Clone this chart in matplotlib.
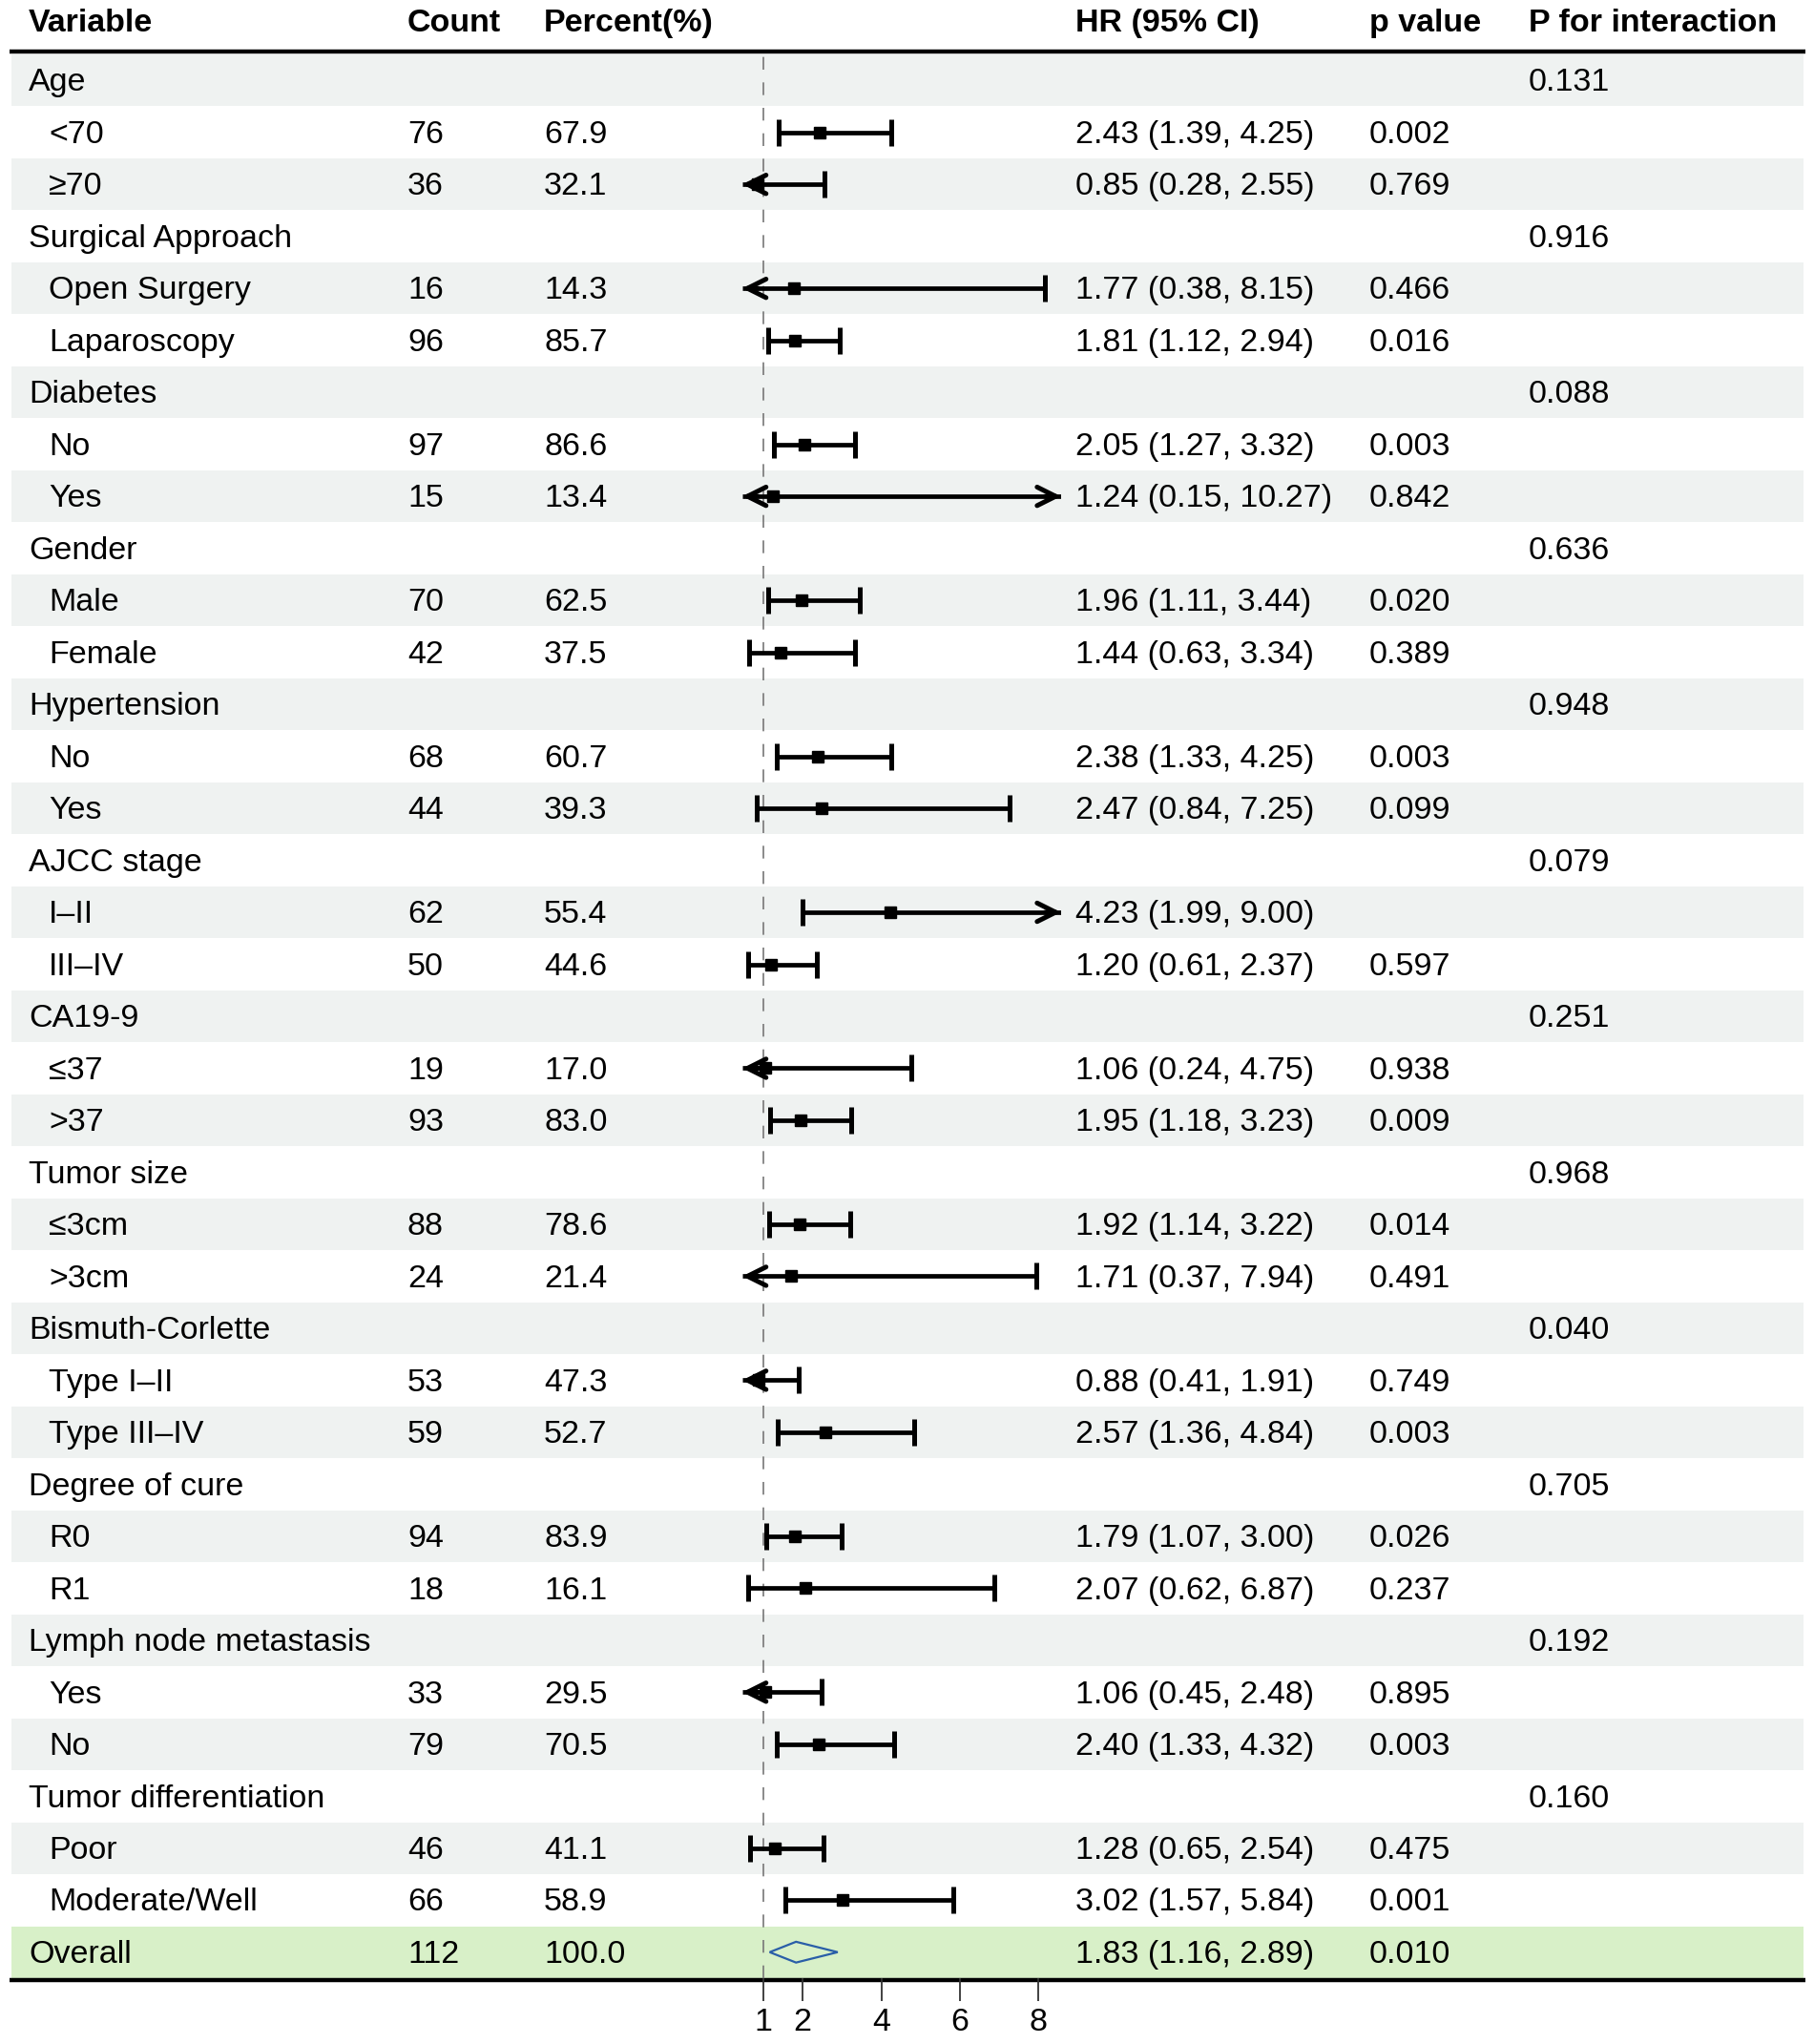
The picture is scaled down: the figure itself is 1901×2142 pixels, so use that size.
import matplotlib.pyplot as plt
from matplotlib.patches import Polygon

plt.rcParams["font.family"] = ["Liberation Sans", "DejaVu Sans"]

labels = [
    "Age", "<70", "≥70",
    "Surgical Approach", "Open Surgery", "Laparoscopy",
    "Diabetes", "No", "Yes",
    "Gender", "Male", "Female",
    "Hypertension", "No", "Yes",
    "AJCC stage", "I–II", "III–IV",
    "CA19-9", "≤37", ">37",
    "Tumor size", "≤3cm", ">3cm",
    "Bismuth-Corlette", "Type I–II", "Type III–IV",
    "Degree of cure", "R0", "R1",
    "Lymph node metastasis", "Yes", "No",
    "Tumor differentiation", "Poor", "Moderate/Well",
    "Overall",
]
is_group = [i % 3 == 0 for i in range(36)] + [True]
counts = ["", "76", "36", "", "16", "96", "", "97", "15", "", "70", "42",
          "", "68", "44", "", "62", "50", "", "19", "93", "", "88", "24",
          "", "53", "59", "", "94", "18", "", "33", "79", "", "46", "66", "112"]
percents = ["", "67.9", "32.1", "", "14.3", "85.7", "", "86.6", "13.4", "", "62.5", "37.5",
            "", "60.7", "39.3", "", "55.4", "44.6", "", "17.0", "83.0", "", "78.6", "21.4",
            "", "47.3", "52.7", "", "83.9", "16.1", "", "29.5", "70.5", "", "41.1", "58.9", "100.0"]
hr = [None, 2.43, 0.85, None, 1.77, 1.81, None, 2.05, 1.24, None, 1.96, 1.44,
      None, 2.38, 2.47, None, 4.23, 1.20, None, 1.06, 1.95, None, 1.92, 1.71,
      None, 0.88, 2.57, None, 1.79, 2.07, None, 1.06, 2.40, None, 1.28, 3.02, 1.83]
lower = [None, 1.39, 0.28, None, 0.38, 1.12, None, 1.27, 0.15, None, 1.11, 0.63,
         None, 1.33, 0.84, None, 1.99, 0.61, None, 0.24, 1.18, None, 1.14, 0.37,
         None, 0.41, 1.36, None, 1.07, 0.62, None, 0.45, 1.33, None, 0.65, 1.57, 1.16]
upper = [None, 4.25, 2.55, None, 8.15, 2.94, None, 3.32, 10.27, None, 3.44, 3.34,
         None, 4.25, 7.25, None, 9.00, 2.37, None, 4.75, 3.23, None, 3.22, 7.94,
         None, 1.91, 4.84, None, 3.00, 6.87, None, 2.48, 4.32, None, 2.54, 5.84, 2.89]
p_values = ["", "0.002", "0.769", "", "0.466", "0.016", "", "0.003", "0.842", "", "0.020", "0.389",
            "", "0.003", "0.099", "", "", "0.597", "", "0.938", "0.009", "", "0.014", "0.491",
            "", "0.749", "0.003", "", "0.026", "0.237", "", "0.895", "0.003", "", "0.475", "0.001", "0.010"]
p_interaction = ["0.131", "0.916", "0.088", "0.636", "0.948", "0.079",
                 "0.251", "0.968", "0.040", "0.705", "0.192", "0.160"]
headers = ["Variable", "Count", "Percent(%)", "HR (95% CI)", "p value", "P for interaction"]
x_ticks = [1, 2, 4, 6, 8]

W, H = 1901, 2142
top, bottom = 57, 2073
n = len(labels)
fs = 24.5
shade = "#eff2f1"
green = "#d8f0c8"

fig = plt.figure(figsize=(W / 100, H / 100), dpi=100)
rect_y = (H - bottom) / H
rect_h = (bottom - top) / H

tab = fig.add_axes([0, rect_y, 1, rect_h])
tab.set_xlim(0, W)
tab.set_ylim(n, 0)
tab.axis("off")

for i in range(n):
    if i == n - 1:
        tab.axhspan(i, i + 1, xmin=12 / W, xmax=1890 / W, color=green, lw=0)
    elif i % 2 == 0:
        tab.axhspan(i, i + 1, xmin=12 / W, xmax=1890 / W, color=shade, lw=0)

tab.plot([10, 1892], [-0.05, -0.05], color="black", lw=3.2, clip_on=False, solid_capstyle="butt")
tab.plot([10, 1892], [n + 0.03, n + 0.03], color="black", lw=3.2, clip_on=False, solid_capstyle="butt")

col_x = [30, 427, 570, 1127, 1435, 1602]
for x, h in zip(col_x, headers):
    tab.text(x, -0.6, h, fontsize=fs, fontweight="bold", va="center", ha="left")

k = 0
for i in range(n):
    y = i + 0.55
    indent = 30 if is_group[i] else 51
    tab.text(indent, y, labels[i], fontsize=fs, va="center")
    tab.text(col_x[1], y, counts[i], fontsize=fs, va="center")
    tab.text(col_x[2], y, percents[i], fontsize=fs, va="center")
    if hr[i] is not None:
        tab.text(col_x[3], y, f"{hr[i]:.2f} ({lower[i]:.2f}, {upper[i]:.2f})", fontsize=fs, va="center")
    tab.text(col_x[4], y, p_values[i], fontsize=fs, va="center")
    if is_group[i] and i < n - 1:
        tab.text(col_x[5], y, p_interaction[k], fontsize=fs, va="center")
        k += 1

# forest panel
x0, x1 = 0.46, 8.57
px0 = 800 - (1 - x0) * 41.2
px1 = 800 + (x1 - 1) * 41.2
ax = fig.add_axes([px0 / W, rect_y, (px1 - px0) / W, rect_h], facecolor="none")
ax.set_xlim(x0, x1)
ax.set_ylim(n, 0)
for s in ax.spines.values():
    s.set_visible(False)
ax.set_yticks([])
ax.set_xticks(x_ticks)
ax.tick_params(axis="x", direction="out", length=17, width=1.3, color="#333333",
               labelsize=fs, pad=5)
ax.axvline(1, color="#777777", lw=1.2, ls=(0, (8, 8)), zorder=1)

for i in range(n - 1):
    if hr[i] is None:
        continue
    y = i + 0.5
    a, b = max(lower[i], x0), min(upper[i], x1)
    ax.plot([a, b], [y, y], color="black", lw=3.4, solid_capstyle="butt", zorder=3)
    ax.plot(hr[i], y, marker="s", ms=8.5, color="black", zorder=4)
    arrow = dict(arrowstyle="->,head_length=0.7,head_width=0.35", lw=3.6,
                 color="black", mutation_scale=20, shrinkA=0, shrinkB=0)
    if lower[i] < x0:
        ax.annotate("", xy=(x0, y), xytext=(x0 + 0.4, y), arrowprops=arrow, zorder=3)
    else:
        ax.plot(lower[i], y, marker="|", ms=20, mew=3.6, color="black", zorder=3)
    if upper[i] > x1:
        ax.annotate("", xy=(x1, y), xytext=(x1 - 0.4, y), arrowprops=arrow, zorder=3)
    else:
        ax.plot(upper[i], y, marker="|", ms=20, mew=3.6, color="black", zorder=3)

y = n - 0.5
d = 0.2
ax.add_patch(Polygon([(lower[-1], y), (hr[-1], y - d), (upper[-1], y), (hr[-1], y + d)],
                     closed=True, fill=False, edgecolor="#2a5ea8", lw=1.6, zorder=3))

fig.savefig("out.png", dpi=100)
